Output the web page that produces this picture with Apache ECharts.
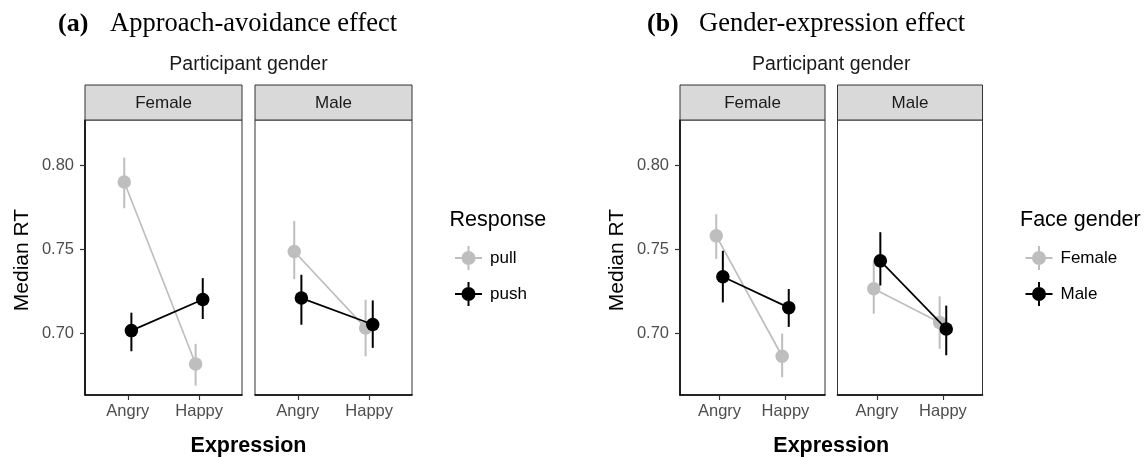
<!DOCTYPE html>
<html><head><meta charset="utf-8">
<script src="https://cdn.jsdelivr.net/npm/echarts@6/dist/echarts.min.js"></script>
<style>html,body{margin:0;padding:0;background:#fff}#c{width:1148px;height:457px}</style>
</head><body><div id="c"></div>
<script>
// ---------- data ----------
const categories = ['Angry', 'Happy'];
const yTickValues = [0.70, 0.75, 0.80];
const participantPanels = ['Female', 'Male'];
const responseGroups = ['pull', 'push'];
const faceGroups = ['Female', 'Male'];

// (a) Approach-avoidance effect — Female participants
const aFemPull   = [0.7900, 0.6815];
const aFemPullLo = [0.7744, 0.6686];
const aFemPullHi = [0.8045, 0.6935];
const aFemPush   = [0.7014, 0.7200];
const aFemPushLo = [0.6891, 0.7083];
const aFemPushHi = [0.7121, 0.7327];
// (a) Male participants
const aMalPull   = [0.7486, 0.7030];
const aMalPullLo = [0.7321, 0.6861];
const aMalPullHi = [0.7668, 0.7198];
const aMalPush   = [0.7208, 0.7050];
const aMalPushLo = [0.7049, 0.6911];
const aMalPushHi = [0.7347, 0.7194];

// (b) Gender-expression effect — Female participants
const bFemFaceF   = [0.7579, 0.6861];
const bFemFaceFLo = [0.7442, 0.6736];
const bFemFaceFHi = [0.7708, 0.6996];
const bFemFaceM   = [0.7335, 0.7151];
const bFemFaceMLo = [0.7182, 0.7036];
const bFemFaceMHi = [0.7490, 0.7262];
// (b) Male participants
const bMalFaceF   = [0.7264, 0.7063];
const bMalFaceFLo = [0.7115, 0.6905];
const bMalFaceFHi = [0.7426, 0.7218];
const bMalFaceM   = [0.7430, 0.7024];
const bMalFaceMLo = [0.7283, 0.6867];
const bMalFaceMHi = [0.7601, 0.7163];

// ---------- layout / style ----------
const GRAY = '#bebebe', BLACK = '#000000';
const groupColors = [GRAY, BLACK];
const DODGE = 0.05;
const TOP = 120, HEIGHT = 275, STRIP_H = 35;
const figs = [
  { lefts: [85, 255], width: 157, groups: responseGroups,
    title: 'Approach-avoidance effect', tag: '(a)', tagX: 58, titleX: 110,
    legendTitle: 'Response', legendX: 449.5,
    data: [
      [[aFemPull, aFemPullLo, aFemPullHi], [aFemPush, aFemPushLo, aFemPushHi]],
      [[aMalPull, aMalPullLo, aMalPullHi], [aMalPush, aMalPushLo, aMalPushHi]]
    ] },
  { lefts: [680, 837.5], width: 145, groups: faceGroups,
    title: 'Gender-expression effect', tag: '(b)', tagX: 647, titleX: 699,
    legendTitle: 'Face gender', legendX: 1020,
    data: [
      [[bFemFaceF, bFemFaceFLo, bFemFaceFHi], [bFemFaceM, bFemFaceMLo, bFemFaceMHi]],
      [[bMalFaceF, bMalFaceFLo, bMalFaceFHi], [bMalFaceM, bMalFaceMLo, bMalFaceMHi]]
    ] }
];

const SANS = 'Liberation Sans, Arial, sans-serif';
const SERIF = 'Liberation Serif, Times New Roman, serif';
const LEGEND_ICON = 'path://M0,11 H6.6 V13 H0 Z M20.4,11 H27 V13 H20.4 Z M12.5,0 H14.5 V5.1 H12.5 Z M12.5,18.9 H14.5 V24 H12.5 Z M6.5,12 A7,7 0 1,1 20.5,12 A7,7 0 1,1 6.5,12 Z';

const grids = [], xAxes = [], yAxes = [], series = [], graphics = [], legends = [];

function errRender(params, api) {
  const x = api.value(0), lo = api.value(1), hi = api.value(2);
  const p1 = api.coord([x, lo]), p2 = api.coord([x, hi]);
  return { type: 'line', shape: { x1: p1[0], y1: p1[1], x2: p2[0], y2: p2[1] },
           style: { stroke: api.visual('color'), lineWidth: 2 } };
}

figs.forEach((fig, fi) => {
  fig.lefts.forEach((left, pi) => {
    const idx = grids.length;
    grids.push({ left: left, top: TOP, width: fig.width, height: HEIGHT,
                 show: true, borderColor: '#333333', borderWidth: 1, backgroundColor: '#fff', containLabel: false });
    xAxes.push({ gridIndex: idx, type: 'value', min: 0.4, max: 2.6,
      axisLine: { show: true, onZero: false, lineStyle: { color: '#000', width: 1.6 } },
      axisTick: { show: true, length: 5, customValues: [1, 2], lineStyle: { color: '#333', width: 1.2 } },
      axisLabel: { show: true, customValues: [1, 2], margin: 8, color: '#4d4d4d', fontSize: 16.5, fontFamily: SANS,
                   formatter: v => categories[Math.round(v) - 1] },
      splitLine: { show: false } });
    const first = pi === 0;
    yAxes.push({ gridIndex: idx, type: 'value', min: 0.663, max: 0.827,
      axisLine: { show: first, lineStyle: { color: '#000', width: 1.6 } },
      axisTick: { show: first, length: 5, customValues: yTickValues, lineStyle: { color: '#333', width: 1.2 } },
      axisLabel: { show: first, customValues: yTickValues, margin: 11, color: '#4d4d4d', fontSize: 16.5, fontFamily: SANS,
                   formatter: v => v.toFixed(2) },
      splitLine: { show: false } });

    // error bars, then lines+points, gray first then black
    fig.data[pi].forEach((g, gi) => {
      const [vals, lo, hi] = g;
      const off = gi === 0 ? -DODGE : DODGE;
      series.push({ type: 'custom', name: fig.groups[gi] + '-err', xAxisIndex: idx, yAxisIndex: idx,
        renderItem: errRender, itemStyle: { color: groupColors[gi] }, z: 2 + gi * 3,
        data: categories.map((c, i) => [i + 1 + off, lo[i], hi[i]]), silent: true });
      series.push({ type: 'line', name: fig.groups[gi], xAxisIndex: idx, yAxisIndex: idx,
        symbol: 'circle', symbolSize: 13.5, z: 3 + gi * 3,
        itemStyle: { color: groupColors[gi] }, lineStyle: { color: groupColors[gi], width: 1.7 },
        data: categories.map((c, i) => [i + 1 + off, vals[i]]), animation: false, silent: true });
    });

    // strip
    graphics.push({ type: 'rect', shape: { x: left, y: TOP - STRIP_H, width: fig.width, height: STRIP_H },
      style: { fill: '#d9d9d9', stroke: '#333333', lineWidth: 1 }, z: 10 });
    graphics.push({ type: 'text', x: left + fig.width / 2, y: TOP - STRIP_H / 2 + 1,
      style: { text: participantPanels[pi], fill: '#1a1a1a', font: '17px ' + SANS, textAlign: 'center', textVerticalAlign: 'middle' }, z: 11 });
  });

  const l0 = fig.lefts[0], r1 = fig.lefts[1] + fig.width, cx = (l0 + r1) / 2;
  graphics.push({ type: 'text', x: fig.tagX, y: 24,
    style: { text: fig.tag, fill: '#000', font: 'bold 26px ' + SERIF, textVerticalAlign: 'middle' } });
  graphics.push({ type: 'text', x: fig.titleX, y: 24,
    style: { text: fig.title, fill: '#000', font: '26.5px ' + SERIF, textVerticalAlign: 'middle' } });
  graphics.push({ type: 'text', x: cx, y: 65,
    style: { text: 'Participant gender', fill: '#1a1a1a', font: '19.5px ' + SANS, textAlign: 'center', textVerticalAlign: 'middle' } });
  graphics.push({ type: 'text', x: cx, y: 446.5,
    style: { text: 'Expression', fill: '#000', font: 'bold 21.5px ' + SANS, textAlign: 'center', textVerticalAlign: 'middle' } });
  graphics.push({ type: 'text', x: l0 - 63, y: 260, rotation: Math.PI / 2,
    style: { text: 'Median RT', fill: '#000', font: '21px ' + SANS, textAlign: 'center', textVerticalAlign: 'middle' } });
  graphics.push({ type: 'text', x: fig.legendX, y: 220,
    style: { text: fig.legendTitle, fill: '#000', font: '21.5px ' + SANS, textVerticalAlign: 'middle' } });
  legends.push({ data: fig.groups.map(n => ({ name: n, icon: LEGEND_ICON })), orient: 'vertical',
    left: fig.legendX + 0.5, top: 241, itemWidth: 27, itemHeight: 24, itemGap: 12,
    selectedMode: false,
    textStyle: { color: '#000', fontSize: 17, fontFamily: SANS, padding: [0, 0, 0, 3] } });
});

const chart = echarts.init(document.getElementById('c'), null, { renderer: 'canvas' });
chart.setOption({
  animation: false,
  backgroundColor: '#ffffff',
  grid: grids, xAxis: xAxes, yAxis: yAxes, series: series,
  legend: legends, graphic: graphics
});
</script></body></html>
